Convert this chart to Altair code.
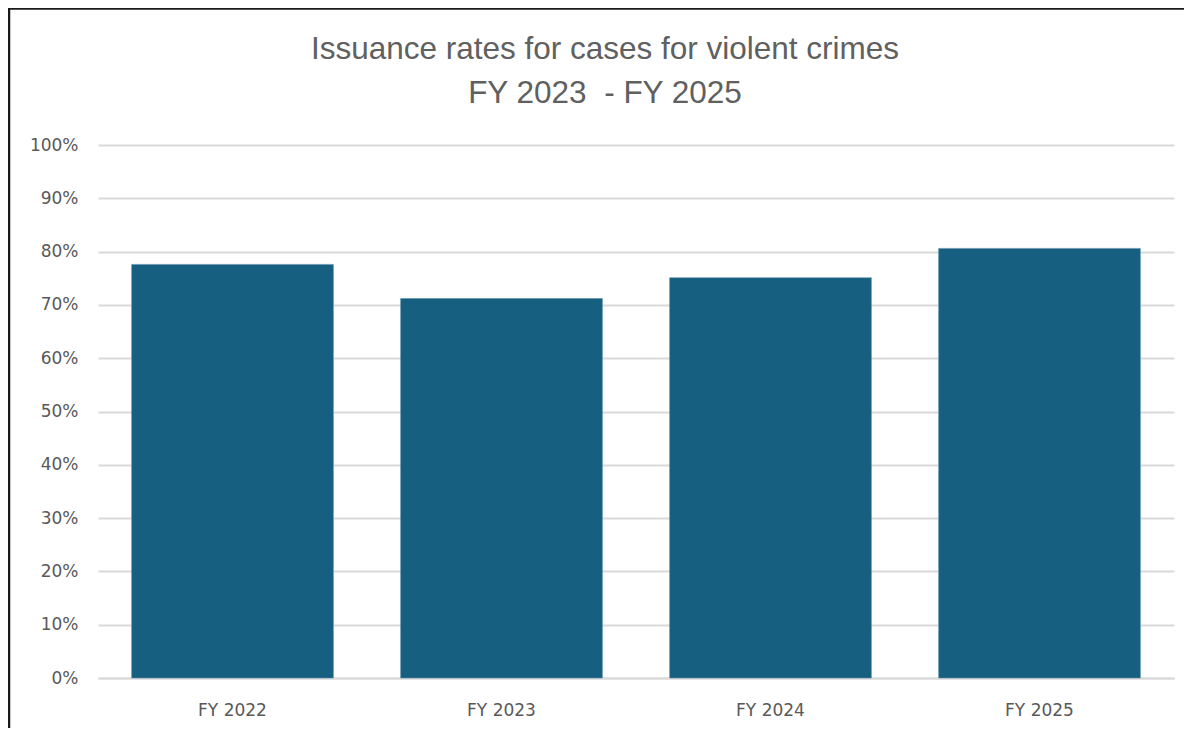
import altair as alt
import pandas as pd

years = ["FY 2022", "FY 2023", "FY 2024", "FY 2025"]
rates = [0.776, 0.712, 0.751, 0.806]

df = pd.DataFrame({"year": years, "rate": rates})
frame = pd.DataFrame({"k": [0]})

W, H = 1076, 533
PL, PT = 90, 137

bars = alt.Chart(df).mark_bar(color="#175f80", stroke="#5b8faa", strokeWidth=0.6).encode(
    x=alt.X("year:N", sort=years, title=None,
            scale=alt.Scale(paddingInner=0.25, paddingOuter=0.125),
            axis=alt.Axis(labelAngle=0, labelPadding=24, ticks=False, domain=True,
                          domainColor="#d9d9d9", domainWidth=2)),
    y=alt.Y("rate:Q", title=None,
            scale=alt.Scale(domain=[0, 1], nice=False),
            axis=alt.Axis(format=".0%", values=[i / 10 for i in range(11)],
                          ticks=False, domain=False, labelPadding=20,
                          gridColor="#d9d9d9", gridWidth=2)),
)

left_border = alt.Chart(frame).mark_rule(color="#1a1a1a", strokeWidth=2.5).encode(
    x=alt.value(-PL + 1), y=alt.value(-PT), y2=alt.value(H + 80))
top_border = alt.Chart(frame).mark_rule(color="#1a1a1a", strokeWidth=2.5).encode(
    y=alt.value(-PT + 0.5), x=alt.value(-PL), x2=alt.value(W + 40))

chart = alt.layer(bars, left_border, top_border).properties(
    width=W, height=H,
    autosize=alt.AutoSizeParams(type="none"),
    padding={"left": PL, "top": PT, "right": 10, "bottom": 50},
    title=alt.TitleParams(
        text=["Issuance rates for cases for violent crimes", "FY 2023\u00a0 - FY 2025"],
        anchor="middle", dx=-31, dy=158, offset=30, baseline="alphabetic",
        font="Liberation Sans", fontSize=31.5, fontWeight="normal",
        color="#606060", lineHeight=44),
).configure_view(stroke=None).configure_axis(
    labelFont="DejaVu Sans", labelFontSize=17, labelColor="#595959"
)

chart.save("out.html", embed_options={"renderer": "svg", "actions": False})
